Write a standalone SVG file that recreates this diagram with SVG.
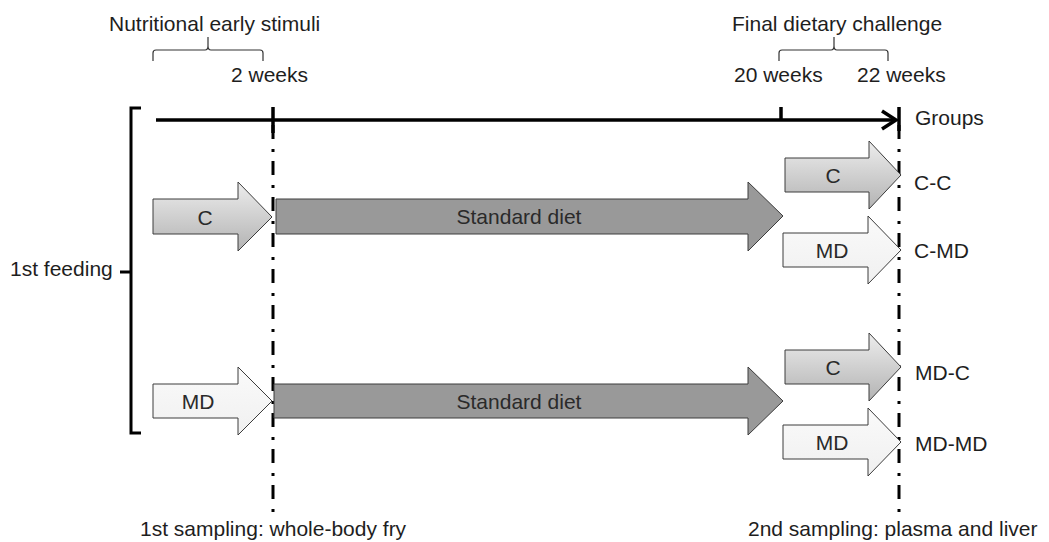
<svg xmlns="http://www.w3.org/2000/svg" width="1049" height="542" viewBox="0 0 1049 542">
<defs>
<linearGradient id="gC" x1="0" y1="0" x2="0" y2="1">
<stop offset="0" stop-color="#ededed"/>
<stop offset="1" stop-color="#b3b3b3"/>
</linearGradient>
<linearGradient id="gMD" x1="0" y1="0" x2="0" y2="1">
<stop offset="0" stop-color="#fafafa"/>
<stop offset="1" stop-color="#f0f0f0"/>
</linearGradient>
</defs>
<style>
text{font-family:"Liberation Sans",Arial,sans-serif;font-size:21px;fill:#1e1e1e}
.mid{text-anchor:middle}
.in{fill:#2a2a2a}
.arrow{stroke:#3c3c3c;stroke-width:1}
.c{fill:url(#gC)}
.md{fill:url(#gMD)}
.std{fill:#999999}
.brace{fill:none;stroke:#333;stroke-width:1.2}
.thick{fill:none;stroke:#000;stroke-width:3.5}
.dd{fill:none;stroke:#000;stroke-width:3;stroke-dasharray:3 9 14 10;stroke-dashoffset:7}
</style>
<rect width="1049" height="542" fill="#fff"/>

<g id="labels-top">
<text x="109" y="30.5">Nutritional early stimuli</text>
<path class="brace" d="M153,61 V53 Q153,50 156,50 H205 Q208,50 208,46 V37 M208,46 Q208,50 211,50 H260 Q263,50 263,53 V61"/>
<text x="231" y="82">2 weeks</text>
<text x="732" y="30.5">Final dietary challenge</text>
<path class="brace" d="M779,61 V53 Q779,50 782,50 H831 Q834,50 834,46 V37 M834,46 Q834,50 837,50 H885 Q888,50 888,53 V61"/>
<text x="734" y="82">20 weeks</text>
<text x="857" y="82">22 weeks</text>
</g>

<g id="connectors">
<path class="thick" d="M156,120 H895"/>
<path class="thick" d="M882,111 L896,120 L882,129"/>
<path class="thick" d="M273,107 V133"/>
<path class="thick" d="M781,107 V120"/>
<path class="thick" d="M899,107 V131"/>
<path class="dd" d="M273,120 V512"/>
<path class="dd" d="M899,120 V512"/>
<path class="thick" style="stroke-width:3" d="M141,108 H131 V433 H141 M120,272 H131"/>
</g>

<g id="timeline-label">
<text x="915" y="125">Groups</text>
<text x="10" y="276">1st feeding</text>
</g>

<g id="arrow-C-early">
<path class="arrow c" d="M153,199 H238 V182 L272,217 L238,251 V234 H153 Z"/>
<text class="mid in" x="205" y="224.5">C</text>
</g>
<g id="arrow-MD-early">
<path class="arrow md" d="M153,384 H238 V367 L272,401 L238,435 V418 H153 Z"/>
<text class="mid in" x="198" y="408.5">MD</text>
</g>
<g id="arrow-std-1">
<path class="arrow std" d="M276,199 H748 V182 L783,216 L748,251 V234 H276 Z"/>
<text class="mid in" x="519" y="224">Standard diet</text>
</g>
<g id="arrow-std-2">
<path class="arrow std" d="M274,384 H748 V367 L783,401 L748,435 V418 H274 Z"/>
<text class="mid in" x="519" y="409">Standard diet</text>
</g>
<g id="arrow-C-CC">
<path class="arrow c" d="M785,158 H869 V141 L901,175 L869,209 V192 H785 Z"/>
<text class="mid in" x="833" y="182.5">C</text>
</g>
<g id="arrow-MD-CMD">
<path class="arrow md" d="M783,233 H868 V216 L901,250 L868,284 V267 H783 Z"/>
<text class="mid in" x="832" y="257.5">MD</text>
</g>
<g id="arrow-C-MDC">
<path class="arrow c" d="M785,350 H869 V333 L901,367 L869,401 V384 H785 Z"/>
<text class="mid in" x="833" y="374.5">C</text>
</g>
<g id="arrow-MD-MDMD">
<path class="arrow md" d="M783,425 H868 V408 L901,442 L868,476 V459 H783 Z"/>
<text class="mid in" x="832" y="449.5">MD</text>
</g>

<g id="groups">
<text x="914" y="190">C-C</text>
<text x="914" y="258">C-MD</text>
<text x="915" y="380">MD-C</text>
<text x="915" y="451">MD-MD</text>
</g>

<g id="sampling">
<text x="140" y="536">1st sampling: whole-body fry</text>
<text x="748" y="536">2nd sampling: plasma and liver</text>
</g>
</svg>
